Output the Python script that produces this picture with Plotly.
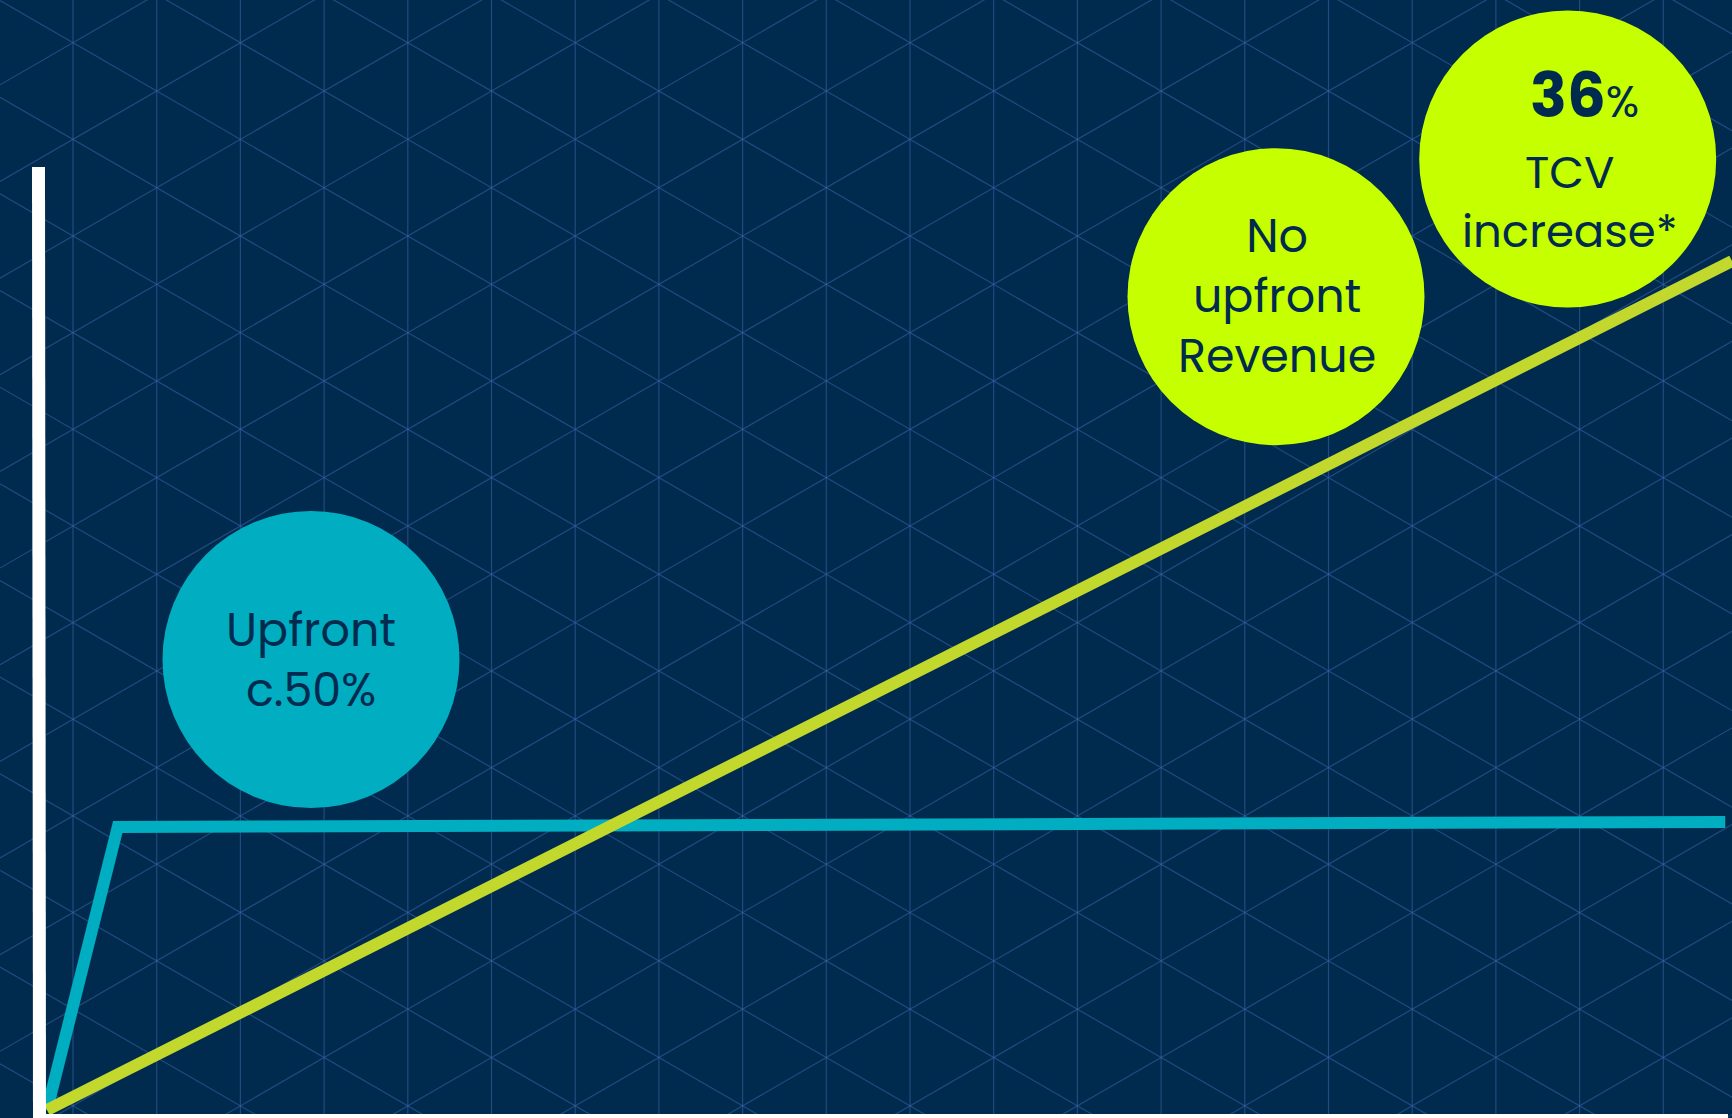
import numpy as np
import plotly.graph_objects as go

# ---- data ----
years_teal = [0, 0.42, 9.96]
revenue_teal = [0, 50, 50.9]          # upfront-recognition model (c.50% upfront)
years_lime = [0, 10.0]
revenue_lime = [0, 150]               # ratable model (no upfront revenue)

labels = ["Upfront<br>c.50%", "No<br>upfront<br>Revenue", "TCV<br>increase*"]
label_big = "36"

W, H = 1732, 1118
BG = "#002b4e"
NAVY = "#002b4e"
TEAL = "#00adc1"
LIME_LINE = "#c2d82c"
LIME_CIRCLE = "#c6ff00"
FONT = "Poppins, 'Open Sans', sans-serif"

# axis mapping (origin at pixel (47,1110))
pxx = 168.5
pxy = 5.66
x_range = [-47 / pxx, (W - 47) / pxx]
y_range = [-(H - 1110) / pxy, 1110 / pxy]

def dx(px):
    return (px - 47) / pxx

def dy(py):
    return (1110 - py) / pxy

fig = go.Figure()
fig.add_trace(go.Scatter(x=years_teal, y=revenue_teal, mode="lines",
                         line=dict(color=TEAL, width=12), hoverinfo="skip"))
fig.add_trace(go.Scatter(x=years_lime, y=revenue_lime, mode="lines",
                         line=dict(color=LIME_LINE, width=12), hoverinfo="skip"))

shapes = []
# isometric background grid (decoration)
GRID = "rgba(60,100,170,0.55)"
step = 83.7
t = np.tan(np.radians(30))
for k in range(-1, 22):
    xp = 73 + k * step
    if 0 <= xp <= W:
        shapes.append(dict(type="line", xref="paper", yref="paper", layer="below",
                           x0=xp / W, x1=xp / W, y0=0, y1=1,
                           line=dict(color=GRID, width=1.2)))
vstep = 2 * step * t
c_down0 = 42.7 - 73 * t
c_up0 = 42.7 + 73 * t
for m in range(-25, 30):
    c = c_down0 + m * vstep
    y0, y1 = c, c + W * t
    if not (y1 < 0 or y0 > H):
        shapes.append(dict(type="line", xref="paper", yref="paper", layer="below",
                           x0=0, x1=1, y0=1 - y0 / H, y1=1 - y1 / H,
                           line=dict(color=GRID, width=1.2)))
    c = c_up0 + m * vstep
    y0, y1 = c, c - W * t
    if not (y0 < 0 or y1 > H):
        shapes.append(dict(type="line", xref="paper", yref="paper", layer="below",
                           x0=0, x1=1, y0=1 - y0 / H, y1=1 - y1 / H,
                           line=dict(color=GRID, width=1.2)))

# axes lines (white)
shapes.append(dict(type="line", xref="paper", yref="paper", layer="above",
                   x0=38.5 / W, x1=39.5 / W, y0=1 - 167 / H, y1=0,
                   line=dict(color="white", width=13)))
shapes.append(dict(type="line", xref="paper", yref="paper", layer="above",
                   x0=46 / W, x1=1728 / W, y0=1 - 1116 / H, y1=1 - 1116 / H,
                   line=dict(color="white", width=4)))

# circles
circles = [(311, 659.5, TEAL), (1276, 296.7, LIME_CIRCLE), (1567.7, 159, LIME_CIRCLE)]
R = 148.5
for cx, cy, col in circles:
    shapes.append(dict(type="circle", xref="x", yref="y", layer="above",
                       xsizemode="pixel", ysizemode="pixel",
                       xanchor=dx(cx), yanchor=dy(cy),
                       x0=-R, x1=R, y0=-R, y1=R,
                       fillcolor=col, line=dict(width=0)))

big_text = "<b>" + label_big + "</b><span style='font-size:44px'>%</span>"

annotations = [
    dict(x=dx(311), y=dy(660), text=labels[0], showarrow=False,
         font=dict(family=FONT, size=46, color=NAVY), xanchor="center", yanchor="middle"),
    dict(x=dx(1277), y=dy(296), text=labels[1], showarrow=False,
         font=dict(family=FONT, size=46, color=NAVY), xanchor="center", yanchor="middle"),
    dict(x=dx(1584), y=dy(139), text=big_text, showarrow=False, borderpad=0,
         font=dict(family=FONT, size=61, color=NAVY), xanchor="center", yanchor="bottom"),
    dict(x=dx(1570), y=dy(139.5), text=labels[2], showarrow=False, borderpad=0,
         font=dict(family=FONT, size=45, color=NAVY), xanchor="center", yanchor="top"),
]

fig.update_layout(
    width=W, height=H, margin=dict(l=0, r=0, t=0, b=0, pad=0),
    paper_bgcolor=BG, plot_bgcolor=BG, showlegend=False,
    xaxis=dict(range=x_range, visible=False, fixedrange=True),
    yaxis=dict(range=y_range, visible=False, fixedrange=True),
    shapes=shapes, annotations=annotations,
)
fig.write_html("out.html", config={"displayModeBar": False})
